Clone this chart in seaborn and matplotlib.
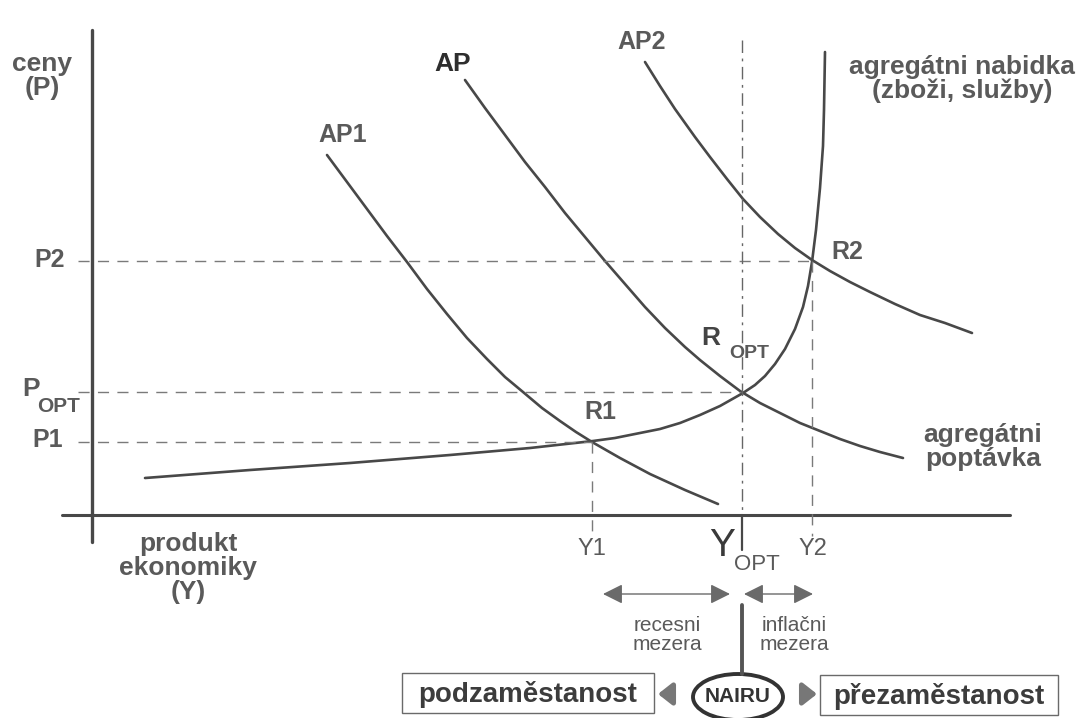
import matplotlib
matplotlib.use("Agg")
import matplotlib.pyplot as plt
import seaborn as sns
import pandas as pd
from matplotlib.patches import Ellipse, Rectangle

sns.set_theme(style="white")
plt.rcParams['font.family'] = ['Liberation Sans', 'DejaVu Sans']

# ---- data (diagram coordinates, y downwards) ----
supply_x = [145, 250, 350, 450, 530, 593, 615, 640, 660, 680, 700, 720, 743, 755, 765,
            775, 785, 795, 803, 808, 812, 816, 820, 823, 824, 825]
supply_y = [478, 470, 463, 455, 448, 441, 438, 433, 429, 423, 415, 406, 393, 385, 376,
            364, 349, 329, 307, 286, 262, 230, 188, 146, 110, 52]

ap1_x = [327, 347, 367, 387, 407, 427, 447, 467, 487, 505, 523, 542, 560, 576, 592,
         620, 650, 685, 718]
ap1_y = [155, 182, 209, 236, 262, 289, 314, 338, 359, 377, 392, 408, 421, 432, 442,
         458, 474, 490, 504]

ap_x = [465, 485, 505, 525, 545, 565, 585, 605, 625, 645, 665, 685, 700, 720, 740,
        760, 780, 800, 820, 840, 860, 880, 903]
ap_y = [80, 108, 135, 162, 187, 213, 237, 261, 284, 307, 328, 347, 360, 376, 391,
        403, 413, 423, 431, 439, 446, 452, 458]

ap2_x = [645, 660, 675, 695, 710, 727, 743, 760, 778, 795, 812, 830, 850, 870, 895,
         920, 945, 972]
ap2_y = [62, 86, 109, 137, 157, 179, 199, 217, 234, 248, 260, 271, 282, 292, 304,
         315, 323, 333]

eq_x = [592, 741, 812]
eq_y = [442, 392, 261]

axis_x0 = 92
axis_y0 = 515

GRAY = "#484848"
TXT = "#5a5a5a"

fig = plt.figure(figsize=(10.84, 7.18), dpi=100)
ax = fig.add_axes([0, 0, 1, 1])

# axes
ax.plot([axis_x0, axis_x0], [30, 542], color=GRAY, lw=2.4)
ax.plot([62, 1010], [axis_y0, axis_y0], color=GRAY, lw=2.2)

# curves
for xs, ys in [(supply_x, supply_y), (ap1_x, ap1_y), (ap_x, ap_y), (ap2_x, ap2_y)]:
    df = pd.DataFrame({"x": xs, "y": ys})
    sns.lineplot(data=df, x="x", y="y", sort=False, estimator=None, ax=ax,
                 color=GRAY, lw=1.9)
ax.set_xlim(0, 1084)
ax.set_ylim(718, 0)
ax.axis("off")

# dashed guide lines
dash = dict(color="#7a7a7a", lw=1.0, ls=(0, (8, 6)))
for x, y in zip(eq_x, eq_y):
    ax.plot([78, x], [y, y], **dash)
ax.plot([eq_x[0], eq_x[0]], [eq_y[0], 536], **dash)
ax.plot([eq_x[2], eq_x[2]], [eq_y[2], 536], **dash)
ax.plot([eq_x[1] + 1, eq_x[1] + 1], [40, axis_y0], color="#666666", lw=1.0, ls=(0, (9, 4, 2, 4)))
ax.plot([eq_x[1] + 1, eq_x[1] + 1], [axis_y0, 550], color=GRAY, lw=1.6)

# labels
bold = dict(color=TXT, fontweight="bold")
ax.text(42, 76, "ceny\n(P)", ha="center", va="center", fontsize=19, linespacing=1.0, **bold)
ax.text(343, 135, "AP1", ha="center", va="center", fontsize=18, **bold)
ax.text(453, 64, "AP", ha="center", va="center", fontsize=19, color="#2e2e2e", fontweight="bold")
ax.text(642, 42, "AP2", ha="center", va="center", fontsize=18, **bold)
ax.text(962, 79, "agregátni nabidka\n(zboži, služby)", ha="center", va="center",
        fontsize=19, linespacing=1.0, **bold)
ax.text(50, 260, "P2", ha="center", va="center", fontsize=18, **bold)
ax.text(31, 389, "P", ha="center", va="center", fontsize=19, **bold)
ax.text(59, 406, "OPT", ha="center", va="center", fontsize=15, **bold)
ax.text(48, 440, "P1", ha="center", va="center", fontsize=18, **bold)
ax.text(847, 252, "R2", ha="center", va="center", fontsize=18, **bold)
ax.text(711, 338, "R", ha="center", va="center", fontsize=19, color="#444444", fontweight="bold")
ax.text(749, 354, "OPT", ha="center", va="center", fontsize=14, **bold)
ax.text(600, 412, "R1", ha="center", va="center", fontsize=18, **bold)
ax.text(983, 447, "agregátni\npoptávka", ha="center", va="center", fontsize=19,
        linespacing=1.0, **bold)
ax.text(188, 568, "produkt\nekonomiky\n(Y)", ha="center", va="center", fontsize=19,
        linespacing=1.0, **bold)
ax.text(592, 549, "Y1", ha="center", va="center", fontsize=17, color=TXT)
ax.text(722, 546, "Y", ha="center", va="center", fontsize=28, color="#3a3a3a")
ax.text(757, 565, "OPT", ha="center", va="center", fontsize=16, color=TXT)
ax.text(813, 549, "Y2", ha="center", va="center", fontsize=17, color=TXT)

# gap arrows
arr = dict(arrowstyle="<|-|>,head_length=1.0,head_width=0.5", color="#6a6a6a", lw=1.0,
           shrinkA=0, shrinkB=0)
ax.annotate("", xy=(603, 594), xytext=(730, 594), arrowprops=arr)
ax.annotate("", xy=(744, 594), xytext=(813, 594), arrowprops=arr)
ax.text(667, 635, "recesni\nmezera", ha="center", va="center", fontsize=15,
        color=TXT, linespacing=1.05)
ax.text(794, 635, "inflačni\nmezera", ha="center", va="center", fontsize=15,
        color=TXT, linespacing=1.05)
ax.plot([742, 742], [605, 674], color="#555555", lw=2.8)

# bottom boxes
ax.add_patch(Rectangle((402, 673), 252, 40, fill=False, ec="#6a6a6a", lw=1.0))
ax.text(528, 694, "podzaměstanost", ha="center", va="center", fontsize=20,
        color="#3c3c3c", fontweight="bold")
ax.add_patch(Rectangle((820, 675), 238, 40, fill=False, ec="#6a6a6a", lw=1.0))
ax.text(939, 696, "přezaměstanost", ha="center", va="center", fontsize=20,
        color="#3c3c3c", fontweight="bold")
ax.add_patch(Ellipse((738, 697), 90, 46, fill=False, ec="#333333", lw=2.8))
ax.text(738, 697, "NAIRU", ha="center", va="center", fontsize=15, color="#333333",
        fontweight="bold")
small = dict(arrowstyle="-|>,head_length=0.7,head_width=0.55", color="#777777", lw=3.5,
             shrinkA=0, shrinkB=0)
ax.annotate("", xy=(658, 694), xytext=(672, 694), arrowprops=small)
ax.annotate("", xy=(817, 694), xytext=(803, 694), arrowprops=small)

fig.savefig("out.png", dpi=100)
